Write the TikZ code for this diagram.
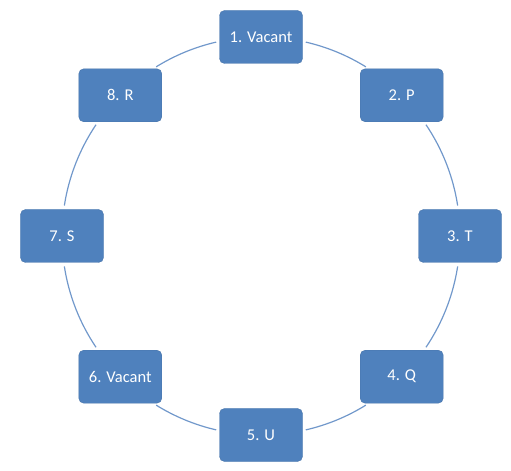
\documentclass[tikz,border=0pt]{standalone}
\usepackage{fontspec}
\setmainfont{Carlito}
\definecolor{boxblue}{HTML}{4F81BD}
\definecolor{ringblue}{HTML}{7198CB}
\begin{document}
\begin{tikzpicture}[x=1bp,y=1bp,
  stepbox/.style={rectangle, rounded corners=5bp, fill=boxblue, draw=boxblue!90!black, line width=0.4bp,
    minimum width=83bp, minimum height=53bp, text=white, font=\fontsize{16.5bp}{19bp}\selectfont, inner sep=0pt},
  ring/.style={draw=ringblue, line width=1.2bp}]
\useasboundingbox (0,0) rectangle (511,471);
\coordinate (c) at (261,235);
% arcs of the cycle
\foreach \a/\b in {8.8/34, 58.2/77, 103/121.8, 146/171.2, 188.8/214, 238.2/257, 283/301.8, 326/351.2}{
  \draw[ring] ([shift={(\a:199bp)}]c) arc[start angle=\a, end angle=\b, radius=199bp];
}
\node[stepbox] (n1) at ([shift={(90:199bp)}]c) {1. Vacant};
\node[stepbox] (n2) at ([shift={(45:199bp)}]c) {2. P};
\node[stepbox] (n3) at ([shift={(0:199bp)}]c) {3. T};
\node[stepbox] (n4) at ([shift={(-45:199bp)}]c) {4. Q};
\node[stepbox] (n5) at ([shift={(-90:199bp)}]c) {5. U};
\node[stepbox] (n6) at ([shift={(-135:199bp)}]c) {6. Vacant};
\node[stepbox] (n7) at ([shift={(180:199bp)}]c) {7. S};
\node[stepbox] (n8) at ([shift={(135:199bp)}]c) {8. R};
\end{tikzpicture}
\end{document}
